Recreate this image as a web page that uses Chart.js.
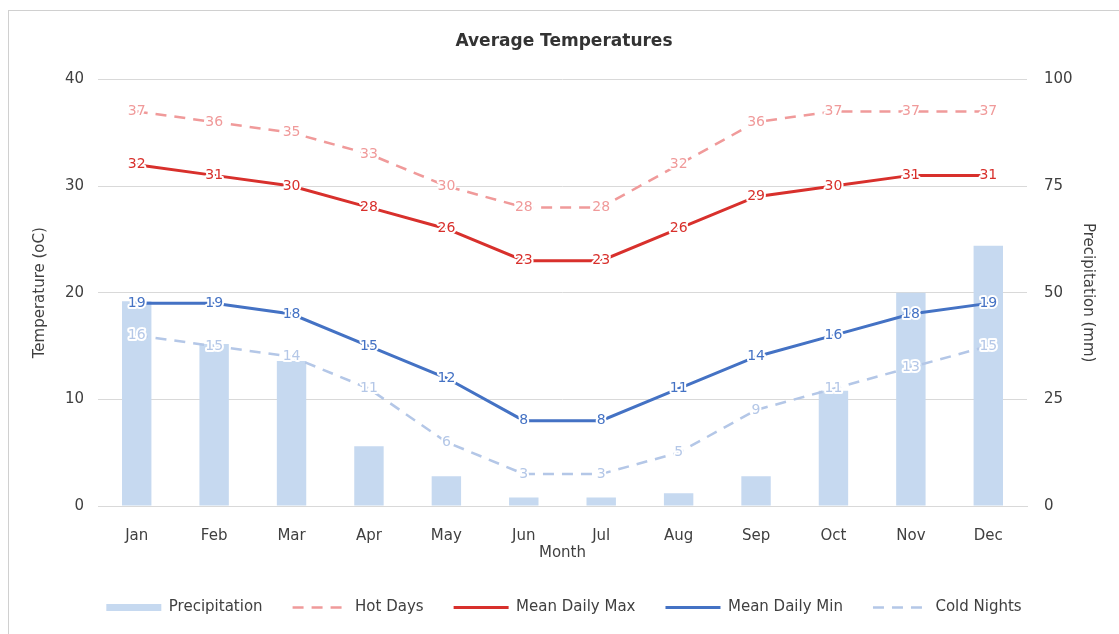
<!DOCTYPE html>
<html>
<head>
<meta charset="utf-8">
<title>Average Temperatures</title>
<script src="https://cdn.jsdelivr.net/npm/chart.js@4.4.0/dist/chart.umd.min.js"></script>
<style>
  body { margin: 0; background: #fff; overflow: hidden; }
  #wrap { position: absolute; left: 8px; top: 10px; width: 1110px; height: 623px; border: 1px solid #d0d0d0; }
</style>
</head>
<body>
<div id="wrap"><canvas id="chart"></canvas></div>
<script>
const months = ['Jan', 'Feb', 'Mar', 'Apr', 'May', 'Jun', 'Jul', 'Aug', 'Sep', 'Oct', 'Nov', 'Dec'];
const precipitation = [48, 38, 34, 14, 7, 2, 2, 3, 7, 27, 50, 61];
const hotDays = [37, 36, 35, 33, 30, 28, 28, 32, 36, 37, 37, 37];
const meanDailyMax = [32, 31, 30, 28, 26, 23, 23, 26, 29, 30, 31, 31];
const meanDailyMin = [19, 19, 18, 15, 12, 8, 8, 11, 14, 16, 18, 19];
const coldNights = [16, 15, 14, 11, 6, 3, 3, 5, 9, 11, 13, 15];

const FONT = '"DejaVu Sans", sans-serif';
const TEXT = '#404040';
const GRID = '#d9d9d9';

// value labels drawn on top of each line point
const pointLabels = {
  id: 'pointLabels',
  afterDatasetsDraw(chart) {
    const ctx = chart.ctx;
    chart.data.datasets.forEach((ds, i) => {
      if (ds.type !== 'line') return;
      const meta = chart.getDatasetMeta(i);
      ctx.save();
      ctx.font = '14px ' + FONT;
      ctx.textAlign = 'center';
      ctx.textBaseline = 'middle';
      ctx.lineWidth = 4;
      ctx.lineJoin = 'round';
      ctx.strokeStyle = '#fff';
      ctx.fillStyle = ds.borderColor;
      meta.data.forEach((pt, j) => {
        const t = String(ds.data[j]);
        ctx.strokeText(t, pt.x, pt.y);
        ctx.fillText(t, pt.x, pt.y);
      });
      ctx.restore();
    });
  }
};

const lineBase = { type: 'line', yAxisID: 'y', pointRadius: 0, pointHoverRadius: 0, tension: 0, fill: false, order: 0 };

new Chart(document.getElementById('chart'), {
  type: 'bar',
  data: {
    labels: months,
    datasets: [
      { type: 'bar', label: 'Precipitation', data: precipitation, yAxisID: 'y1',
        backgroundColor: '#c6d9f0', borderWidth: 0, barPercentage: 0.38, categoryPercentage: 1, order: 1 },
      { ...lineBase, label: 'Hot Days', data: hotDays, borderColor: '#f09a9a', borderWidth: 2.5, borderDash: [11, 8] },
      { ...lineBase, label: 'Mean Daily Max', data: meanDailyMax, borderColor: '#d8302c', borderWidth: 3 },
      { ...lineBase, label: 'Mean Daily Min', data: meanDailyMin, borderColor: '#4472c4', borderWidth: 3 },
      { ...lineBase, label: 'Cold Nights', data: coldNights, borderColor: '#b4c7e7', borderWidth: 2.5, borderDash: [11, 8] }
    ]
  },
  options: {
    responsive: true,
    maintainAspectRatio: false,
    animation: false,
    layout: { padding: { top: 0, left: 0, right: 0, bottom: 9 } },
    plugins: {
      title: {
        display: true,
        text: 'Average Temperatures',
        color: '#333',
        font: { family: FONT, size: 17, weight: 'bold' },
        padding: { top: 20, bottom: 28 }
      },
      legend: {
        position: 'bottom',
        labels: {
          usePointStyle: true,
          pointStyleWidth: 55,
          boxHeight: 7,
          padding: 30,
          color: TEXT,
          font: { family: FONT, size: 15 },
          generateLabels(chart) {
            return chart.data.datasets.map((ds, i) => ({
              text: ds.label,
              datasetIndex: i,
              fillStyle: ds.type === 'line' ? ds.borderColor : ds.backgroundColor,
              strokeStyle: ds.type === 'line' ? ds.borderColor : ds.backgroundColor,
              lineWidth: ds.type === 'line' ? ds.borderWidth : 0,
              lineDash: ds.borderDash || [],
              pointStyle: ds.type === 'line' ? 'line' : 'rect',
              fontColor: TEXT,
              hidden: false
            }));
          }
        }
      },
      tooltip: { enabled: false }
    },
    scales: {
      x: {
        grid: { display: false },
        border: { display: true, color: GRID },
        ticks: { color: TEXT, padding: 13, font: { family: FONT, size: 15 } },
        title: { display: true, text: 'Month', color: TEXT, font: { family: FONT, size: 15 }, padding: { top: 8, bottom: 8 } },
        afterFit(s) { s.height = 64; }
      },
      y: {
        position: 'left',
        min: 0, max: 40,
        ticks: { stepSize: 10, color: TEXT, padding: 14, font: { family: FONT, size: 15 } },
        grid: { color: GRID, drawTicks: false },
        border: { display: false },
        title: { display: true, text: 'Temperature (oC)', color: TEXT, font: { family: FONT, size: 15 }, padding: { top: 22, bottom: 22 } },
        afterFit(s) { s.width = 89; }
      },
      y1: {
        position: 'right',
        min: 0, max: 100,
        ticks: { stepSize: 25, color: TEXT, padding: 17, font: { family: FONT, size: 15 } },
        grid: { drawOnChartArea: false, drawTicks: false },
        border: { display: false },
        title: { display: true, text: 'Precipitation (mm)', color: TEXT, font: { family: FONT, size: 15 }, padding: { top: 22, bottom: 22 } },
        afterFit(s) { s.width = 92; }
      }
    }
  },
  plugins: [pointLabels]
});
</script>
</body>
</html>
